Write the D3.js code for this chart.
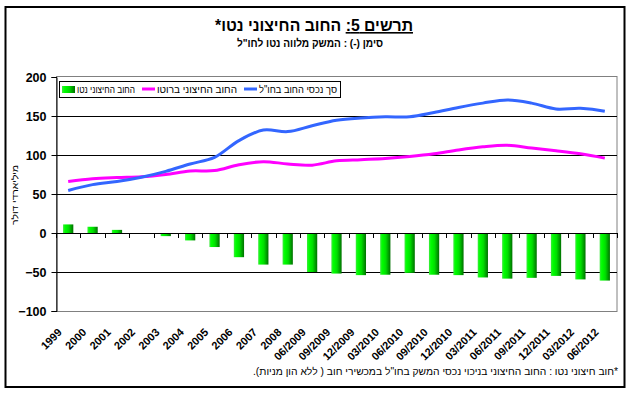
<!DOCTYPE html>
<html>
<head>
<meta charset="utf-8">
<script src="https://cdn.jsdelivr.net/npm/d3@7"></script>
<style>
  body { margin: 0; background: #fff; }
  text { font-family: Arial, "Liberation Sans", sans-serif; }
</style>
</head>
<body>
<svg id="chart" width="635" height="395"></svg>
<script>
"use strict";

var categories = ["1999", "2000", "2001", "2002", "2003", "2004", "2005", "2006", "2007", "2008",
  "06/2009", "09/2009", "12/2009", "03/2010", "06/2010", "09/2010", "12/2010",
  "03/2011", "06/2011", "09/2011", "12/2011", "03/2012", "06/2012"];

// net external debt (bars)
var netDebt = [11, 8, 4, 0, -4, -9.5, -18, -31, -40.5, -40.5,
  -50, -52, -54, -53.5, -51, -53.5, -54, -57, -58.5, -57.5, -55, -59.5, -61];

// gross external debt (magenta)
var grossDebt = [66, 69.5, 71, 72, 75, 79.5, 80, 87.5, 91.5, 88.5,
  87, 92.5, 94, 95.5, 98, 101.5, 106.5, 110.5, 112.5, 109, 105.5, 101.5, 96];

// debt assets abroad (blue)
var assets = [54.5, 62, 66, 71.5, 79, 88.5, 97, 118.5, 132, 130,
  137.5, 144.5, 147.5, 149, 149, 154.5, 161, 166.5, 170.5, 166.5, 159, 160, 156];

var yTicks = [-100, -50, 0, 50, 100, 150, 200];

var legendItems = [
  { label: "סך נכסי החוב בחו\"ל", type: "line", color: "#3366FF" },
  { label: "החוב החיצוני ברוטו", type: "line", color: "#FF00FF" },
  { label: "החוב החיצוני נטו", type: "bar", color: "url(#barGrad)" }
];

var svg = d3.select("#chart");

var x = d3.scaleBand().domain(categories).range([56, 617]);
var y = d3.scaleLinear().domain([-100, 200]).range([311, 77]);

// outer frame
svg.append("rect")
  .attr("x", 5.5).attr("y", 7)
  .attr("width", 619).attr("height", 380)
  .attr("fill", "none").attr("stroke", "#000").attr("stroke-width", 2);

// bar gradient
var grad = svg.append("defs").append("linearGradient")
  .attr("id", "barGrad").attr("x1", "0%").attr("x2", "100%");
grad.append("stop").attr("offset", "0%").attr("stop-color", "#40e840");
grad.append("stop").attr("offset", "20%").attr("stop-color", "#00ff00");
grad.append("stop").attr("offset", "55%").attr("stop-color", "#00dd00");
grad.append("stop").attr("offset", "100%").attr("stop-color", "#007000");

// plot frame
svg.append("rect")
  .attr("x", 56.5).attr("y", y(200) - 0.5)
  .attr("width", 617 - 56.5).attr("height", y(-100) - y(200) + 1)
  .attr("fill", "#fff").attr("stroke", "#808080").attr("stroke-width", 1);

// gridlines
svg.selectAll(".grid").data(yTicks.filter(function(d) { return d > -100 && d < 200; }))
  .enter().append("line")
  .attr("class", "grid")
  .attr("x1", 56).attr("x2", 617)
  .attr("y1", function(d) { return Math.round(y(d)) + 0.5; })
  .attr("y2", function(d) { return Math.round(y(d)) + 0.5; })
  .attr("stroke", "#000").attr("stroke-width", 1);

// y axis
var yAxis = svg.append("g")
  .attr("transform", "translate(56.5,0)")
  .call(d3.axisLeft(y).tickValues(yTicks).tickSize(5).tickPadding(5).tickFormat(d3.format("d")));
yAxis.select(".domain").attr("stroke", "#000");
yAxis.selectAll("text").attr("font-size", 12.5).attr("font-weight", "bold").attr("fill", "#000");

// x tick marks at category boundaries
var bounds = categories.map(function(c) { return x(c); }).concat([x.range()[1]]);
svg.selectAll(".xtick").data(bounds)
  .enter().append("line")
  .attr("class", "xtick")
  .attr("x1", function(d) { return Math.round(d) + 0.5; })
  .attr("x2", function(d) { return Math.round(d) + 0.5; })
  .attr("y1", Math.round(y(0))).attr("y2", Math.round(y(0)) + 5)
  .attr("stroke", "#000");

// bars
var barW = x.bandwidth() * 0.42;
svg.selectAll(".bar").data(netDebt)
  .enter().append("rect")
  .attr("class", "bar")
  .attr("x", function(d, i) { return x(categories[i]) + (x.bandwidth() - barW) / 2; })
  .attr("y", function(d) { return y(Math.max(0, d)); })
  .attr("width", barW)
  .attr("height", function(d) { return Math.abs(y(d) - y(0)); })
  .attr("fill", "url(#barGrad)");

// zero line
svg.append("line")
  .attr("x1", 56).attr("x2", 617)
  .attr("y1", Math.round(y(0)) + 0.5).attr("y2", Math.round(y(0)) + 0.5)
  .attr("stroke", "#000");

// lines
var line = d3.line()
  .x(function(d, i) { return x(categories[i]) + x.bandwidth() / 2; })
  .y(function(d) { return y(d); })
  .curve(d3.curveCatmullRom.alpha(0.5));

svg.append("path").datum(grossDebt)
  .attr("d", line).attr("fill", "none")
  .attr("stroke", "#FF00FF").attr("stroke-width", 3);

svg.append("path").datum(assets)
  .attr("d", line).attr("fill", "none")
  .attr("stroke", "#3366FF").attr("stroke-width", 3);

// x labels
svg.selectAll(".xlabel").data(categories)
  .enter().append("text")
  .attr("class", "xlabel")
  .attr("transform", function(d) {
    return "translate(" + (x(d) + x.bandwidth() / 2 - 5.5) + ",333) rotate(-45)";
  })
  .attr("text-anchor", "end")
  .attr("font-size", 11).attr("font-weight", "bold")
  .text(function(d) { return d; });

// legend
var legend = svg.append("g");
legend.append("rect")
  .attr("x", 59.5).attr("y", 81.5).attr("width", 281).attr("height", 16)
  .attr("fill", "#fff").attr("stroke", "#000");

var legendX = [337, 237, 135];
var legendW = [78, 80, 58];
legendItems.forEach(function(item, i) {
  legend.append("text")
    .attr("x", legendX[i]).attr("y", 93)
    .attr("direction", "rtl").attr("text-anchor", "start")
    .attr("font-size", 10)
    .attr("textLength", legendW[i]).attr("lengthAdjust", "spacingAndGlyphs")
    .text(item.label);
  var sx = legendX[i] - legendW[i] - 2;
  if (item.type === "line") {
    legend.append("line")
      .attr("x1", sx - 13).attr("x2", sx)
      .attr("y1", 89).attr("y2", 89)
      .attr("stroke", item.color).attr("stroke-width", 3);
  } else {
    legend.append("rect")
      .attr("x", sx - 13).attr("y", 86).attr("width", 13).attr("height", 7)
      .attr("fill", item.color);
  }
});

// titles
var title = svg.append("text")
  .attr("x", 314).attr("y", 31)
  .attr("direction", "rtl").attr("text-anchor", "middle")
  .attr("font-size", 16).attr("font-weight", "bold")
  .attr("textLength", 198).attr("lengthAdjust", "spacingAndGlyphs");
title.append("tspan").attr("text-decoration", "underline").text("תרשים 5:");
title.append("tspan").text(" החוב החיצוני נטו*");

svg.append("text")
  .attr("x", 310).attr("y", 47)
  .attr("direction", "rtl").attr("text-anchor", "middle")
  .attr("font-size", 11).attr("font-weight", "bold")
  .attr("textLength", 146).attr("lengthAdjust", "spacingAndGlyphs")
  .text("סימן (-) : המשק מלווה נטו לחו\"ל");

// y axis title
svg.append("text")
  .attr("transform", "translate(18,195) rotate(-90)")
  .attr("direction", "rtl").attr("text-anchor", "middle")
  .attr("font-size", 9)
  .attr("textLength", 60).attr("lengthAdjust", "spacingAndGlyphs")
  .text("מיליארדי דולר");

// footnote
svg.append("text")
  .attr("x", 618).attr("y", 375)
  .attr("direction", "rtl").attr("text-anchor", "start")
  .attr("font-size", 10)
  .attr("textLength", 365).attr("lengthAdjust", "spacingAndGlyphs")
  .text("*חוב חיצוני נטו : החוב החיצוני בניכוי נכסי המשק בחו\"ל במכשירי חוב ( ללא הון מניות).");
</script>
</body>
</html>
